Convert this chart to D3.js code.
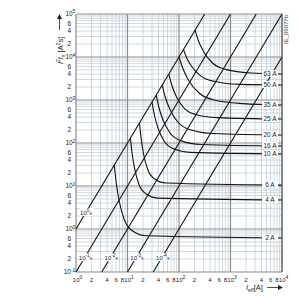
<!DOCTYPE html>
<html>
<head>
<meta charset="utf-8">
<script src="https://cdn.jsdelivr.net/npm/d3@7"></script>
<style>
  body { margin: 0; background: #fff; }
  text { font-family: "Liberation Sans", Arial, sans-serif; }
</style>
</head>
<body>
<div id="chart"></div>
<script>
// tick values (labels: decades as 10^n, the rest as plain digits)
const xTickValues = [1, 2, 4, 6, 8, 10, 20, 40, 60, 80, 100, 200, 400, 600, 800, 1000, 2000, 4000, 6000, 8000, 10000];
const yTickValues = [0.1, 0.2, 0.4, 0.6, 1, 2, 4, 6, 10, 20, 40, 60, 100, 200, 400, 600, 1000, 2000, 4000, 6000, 10000, 20000, 40000, 60000, 100000];

// constant melting time lines I^2 t = I^2 * t, end points [I, I2t]
const timeExponents = ["0", "-1", "-2", "-3", "-4"];
const timeLines = [
  [[1, 1], [316, 100000]],
  [[1, 0.1], [1000, 100000]],
  [[3.16, 0.1], [3162, 100000]],
  [[10, 0.1], [10000, 100000]],
  [[31.6, 0.1], [10000, 10000]]
];
const timeSeconds = [1, 0.1, 0.01, 0.001, 0.0001];
const timeLabelAt = [2.36, 0.21, 0.21, 0.21, 0.21];

// fuse ratings and their I2t curves [I (A), I2t (A2s)]
const ratings = ["63", "50", "35", "25", "20", "16", "10", "6", "4", "2"];
const fuseCurves = [
  [[205, 42000], [239, 23600], [303, 13100], [447, 7250], [836, 5090], [2500, 4250], [10000, 4025]],
  [[122, 14900], [143, 9270], [181, 5780], [267, 3600], [500, 2690], [1496, 2305], [10000, 2230]],
  [[100, 10000], [120, 5260], [156, 2770], [245, 1455], [500, 989], [1750, 825], [10000, 765]],
  [[63.4, 4020], [72.5, 2200], [88.6, 1206], [124, 660], [212, 460], [542, 389], [10000, 361]],
  [[47.2, 2230], [54.4, 1143], [67.5, 585], [96.5, 300], [171, 201], [466, 166], [10000, 153]],
  [[36.1, 1300], [40.9, 660], [49.3, 334], [67.5, 169], [111, 112], [267, 92.3], [10000, 85]],
  [[29.9, 895], [33.3, 448], [39.1, 223], [51.2, 111], [78.5, 73.3], [166, 60.4], [10000, 55.5]],
  [[17.1, 292], [18.4, 127], [20.5, 55.5], [24.7, 24.2], [33.2, 14.7], [55.7, 11.7], [10000, 10.5]],
  [[11.4, 130], [12.3, 57], [13.8, 24.9], [16.7, 10.8], [22.7, 6.58], [38.6, 5.23], [10000, 4.72]],
  [[5.54, 30.7], [6.06, 11.6], [6.93, 4.36], [8.67, 1.64], [12.4, 0.913], [23.2, 0.695], [10000, 0.62]]
];

const W = 300, H = 300;
const plot = { left: 76, right: 282, top: 14, bottom: 272 };

const svg = d3.select("#chart")
  .append("svg")
  .attr("width", W)
  .attr("height", H);

const x = d3.scaleLog().domain([1, 10000]).range([plot.left, plot.right]);
const y = d3.scaleLog().domain([0.1, 100000]).range([plot.bottom, plot.top]);

// grid
const grid = svg.append("g");
const minor = [], major = [];
for (let e = 0; e < 4; e++) for (let k = 1; k < 10; k++) (k === 1 ? major : minor).push({ axis: "x", v: k * 10 ** e });
major.push({ axis: "x", v: 10000 });
for (let e = -1; e < 5; e++) for (let k = 1; k < 10; k++) (k === 1 ? major : minor).push({ axis: "y", v: k * 10 ** e });
major.push({ axis: "y", v: 100000 });

function gridLine(sel) {
  sel.attr("x1", d => d.axis === "x" ? x(d.v) : plot.left)
    .attr("x2", d => d.axis === "x" ? x(d.v) : plot.right)
    .attr("y1", d => d.axis === "y" ? y(d.v) : plot.top)
    .attr("y2", d => d.axis === "y" ? y(d.v) : plot.bottom);
}
grid.selectAll(".minor").data(minor).enter().append("line")
  .attr("class", "minor").call(gridLine)
  .attr("stroke", "#c3cedb").attr("stroke-width", 0.8);
grid.selectAll(".major").data(major).enter().append("line")
  .attr("class", "major").call(gridLine)
  .attr("stroke", "#8c8c8c").attr("stroke-width", 1.2);

// axis labels
const isDecade = v => Math.abs(Math.log10(v) - Math.round(Math.log10(v))) < 1e-9;
const lead = v => Math.round(v / 10 ** Math.floor(Math.log10(v) + 1e-9));

function powerLabel(g, v, fs) {
  g.append("tspan").text("10");
  g.append("tspan").attr("dy", -2.8).attr("font-size", fs).text(Math.round(Math.log10(v)));
}

const xLab = svg.append("g").attr("font-size", 6).attr("fill", "#222");
xTickValues.forEach(v => {
  const t = xLab.append("text").attr("y", 282);
  if (isDecade(v)) {
    t.attr("x", x(v) - 3.2);
    powerLabel(t, v, 5);
  } else {
    t.attr("x", x(v)).attr("text-anchor", "middle").text(lead(v));
  }
});

const yLab = svg.append("g").attr("font-size", 6.5).attr("fill", "#222");
yTickValues.forEach(v => {
  const t = yLab.append("text").attr("y", y(v) + 2.3);
  if (isDecade(v)) {
    t.attr("x", 75.5).attr("text-anchor", "end");
    powerLabel(t, v, 5.2);
  } else {
    t.attr("x", 71).attr("text-anchor", "end").text(lead(v));
  }
});

// time lines
const line = d3.line().x(d => x(d[0])).y(d => y(d[1]));
svg.append("g").selectAll("path").data(timeLines).enter().append("path")
  .attr("d", line)
  .attr("fill", "none").attr("stroke", "#111").attr("stroke-width", 1.1);

// fuse curves
const curve = d3.line().x(d => x(d[0])).y(d => y(d[1])).curve(d3.curveMonotoneX);
svg.append("g").selectAll("path").data(fuseCurves).enter().append("path")
  .attr("d", curve)
  .attr("fill", "none").attr("stroke", "#111").attr("stroke-width", 1.1);

// time line labels (on white over the line)
timeSeconds.forEach((t, i) => {
  const e = timeLabelAt[i];
  const cx = x(Math.sqrt(e / t));
  const cy = y(e);
  const g = svg.append("g").attr("font-size", 6).attr("fill", "#222");
  g.append("rect").attr("x", cx - 6).attr("y", cy - 5).attr("width", 14).attr("height", 8).attr("fill", "#fff");
  const tx = g.append("text").attr("x", cx - 5.5).attr("y", cy + 2);
  tx.append("tspan").text("10");
  tx.append("tspan").attr("dy", -2.8).attr("font-size", 4.8).text(timeExponents[i]);
  tx.append("tspan").attr("dy", 2.8).attr("font-size", 4.8).text("s");
});

// fuse labels
fuseCurves.forEach((c, i) => {
  const cy = y(c[c.length - 1][1]);
  const g = svg.append("g").attr("font-size", 6.5).attr("fill", "#222");
  g.append("rect").attr("x", 262).attr("y", cy - 4).attr("width", 16).attr("height", 7).attr("fill", "#fff");
  g.append("text").attr("x", 270).attr("y", cy + 2.3).attr("text-anchor", "middle").text(ratings[i] + " A");
});

// frame right
svg.append("line").attr("x1", plot.right).attr("x2", plot.right).attr("y1", plot.top).attr("y2", plot.bottom)
  .attr("stroke", "#555").attr("stroke-width", 1);

// y title
const yt = svg.append("text").attr("font-size", 7.5).attr("fill", "#222")
  .attr("transform", "translate(62.5,64) rotate(-90)");
yt.append("tspan").attr("font-style", "italic").text("I");
yt.append("tspan").attr("dy", -3).attr("font-size", 5).text("2");
yt.append("tspan").attr("dy", 3).attr("font-style", "italic").text("t");
yt.append("tspan").attr("dy", 2).attr("font-size", 5).text("s");
yt.append("tspan").attr("dy", -2).text(" [A");
yt.append("tspan").attr("dy", -3).attr("font-size", 5).text("2");
yt.append("tspan").attr("dy", 3).text("s]");
svg.append("line").attr("x1", 59.5).attr("x2", 59.5).attr("y1", 30).attr("y2", 17)
  .attr("stroke", "#222").attr("stroke-width", 0.8);
svg.append("path").attr("d", "M57,19 L59.5,14 L62,19 Z").attr("fill", "#222");

// x title
const xt = svg.append("text").attr("font-size", 7.5).attr("fill", "#222").attr("x", 246).attr("y", 290);
xt.append("tspan").attr("font-style", "italic").text("I");
xt.append("tspan").attr("dy", 2).attr("font-size", 5).attr("font-style", "italic").text("eff");
xt.append("tspan").attr("dy", -2).text("[A]");
svg.append("line").attr("x1", 267).attr("x2", 280).attr("y1", 287.5).attr("y2", 287.5)
  .attr("stroke", "#222").attr("stroke-width", 0.8);
svg.append("path").attr("d", "M278,285 L283,287.5 L278,290 Z").attr("fill", "#222");

// drawing id
svg.append("text").attr("font-size", 6).attr("fill", "#333")
  .attr("transform", "translate(288,44) rotate(-90)").text("IE_06077b");
</script>
</body>
</html>
